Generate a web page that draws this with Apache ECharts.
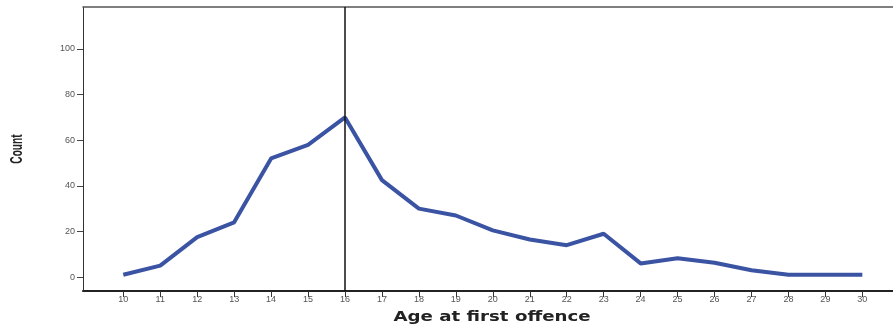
<!DOCTYPE html>
<html><head><meta charset="utf-8">
<script src="https://cdn.jsdelivr.net/npm/echarts@6/dist/echarts.min.js"></script>
<style>html,body{margin:0;padding:0;background:#fff}#c{width:893px;height:324px}</style>
</head><body><div id="c"></div>
<script>
const ages = [10,11,12,13,14,15,16,17,18,19,20,21,22,23,24,25,26,27,28,29,30];
const counts = [1,5,17.5,24,52,58,70,42.5,30,27,20.5,16.5,14,19,6,8.3,6.3,3,1,1,1];
const yTicks = [0,20,40,60,80,100];
const xTicks = ages.slice();
const refAge = 16;

const chart = echarts.init(document.getElementById('c'), null, {renderer:'canvas'});
chart.setOption({
  animation:false,
  backgroundColor:'#fff',
  grid:{left:83, right:0, top:7, bottom:33, show:false},
  xAxis:[{type:'value', min:8.91, max:30.83, position:'bottom',
    axisLine:{show:true, onZero:false, lineStyle:{color:'#222', width:2}},
    axisTick:{show:true, customValues:xTicks, length:6, lineStyle:{color:'#333'}},
    axisLabel:{show:true, customValues:xTicks, fontSize:9, color:'#555', margin:4, fontFamily:'Arial'},
    splitLine:{show:false}},
    {type:'value', min:8.91, max:30.83, position:'top',
    axisLine:{show:true, onZero:false, lineStyle:{color:'#555', width:1.5}},
    axisTick:{show:false}, axisLabel:{show:false}, splitLine:{show:false}}],
  yAxis:{type:'value', min:-6.1, max:118.4,
    axisLine:{show:true, onZero:false, lineStyle:{color:'#333', width:1}},
    axisTick:{show:true, customValues:yTicks, length:6, lineStyle:{color:'#444'}},
    axisLabel:{show:true, customValues:yTicks, fontSize:9, color:'#555', margin:8, fontFamily:'Arial'},
    splitLine:{show:false}},
  graphic:[
    {type:'text', x:492, y:317, scaleX:1.3, style:{text:'Age at first offence', font:'bold 14px "DejaVu Sans", Arial', fill:'#222', align:'center', verticalAlign:'middle'}},
    {type:'text', x:17, y:149, rotation:Math.PI/2, scaleX:0.6, style:{text:'Count', font:'bold 17px Arial', fill:'#222', align:'center', verticalAlign:'middle'}}
  ],
  series:[{
    type:'line', xAxisIndex:0, data:ages.map((a,i)=>[a,counts[i]]), symbol:'none',
    lineStyle:{color:'#3b53a3', width:4}, z:3,
    markLine:{silent:true, symbol:'none', label:{show:false},
      lineStyle:{color:'#111', width:1.5, type:'solid'},
      data:[{xAxis:refAge}]}
  }]
});
</script></body></html>
